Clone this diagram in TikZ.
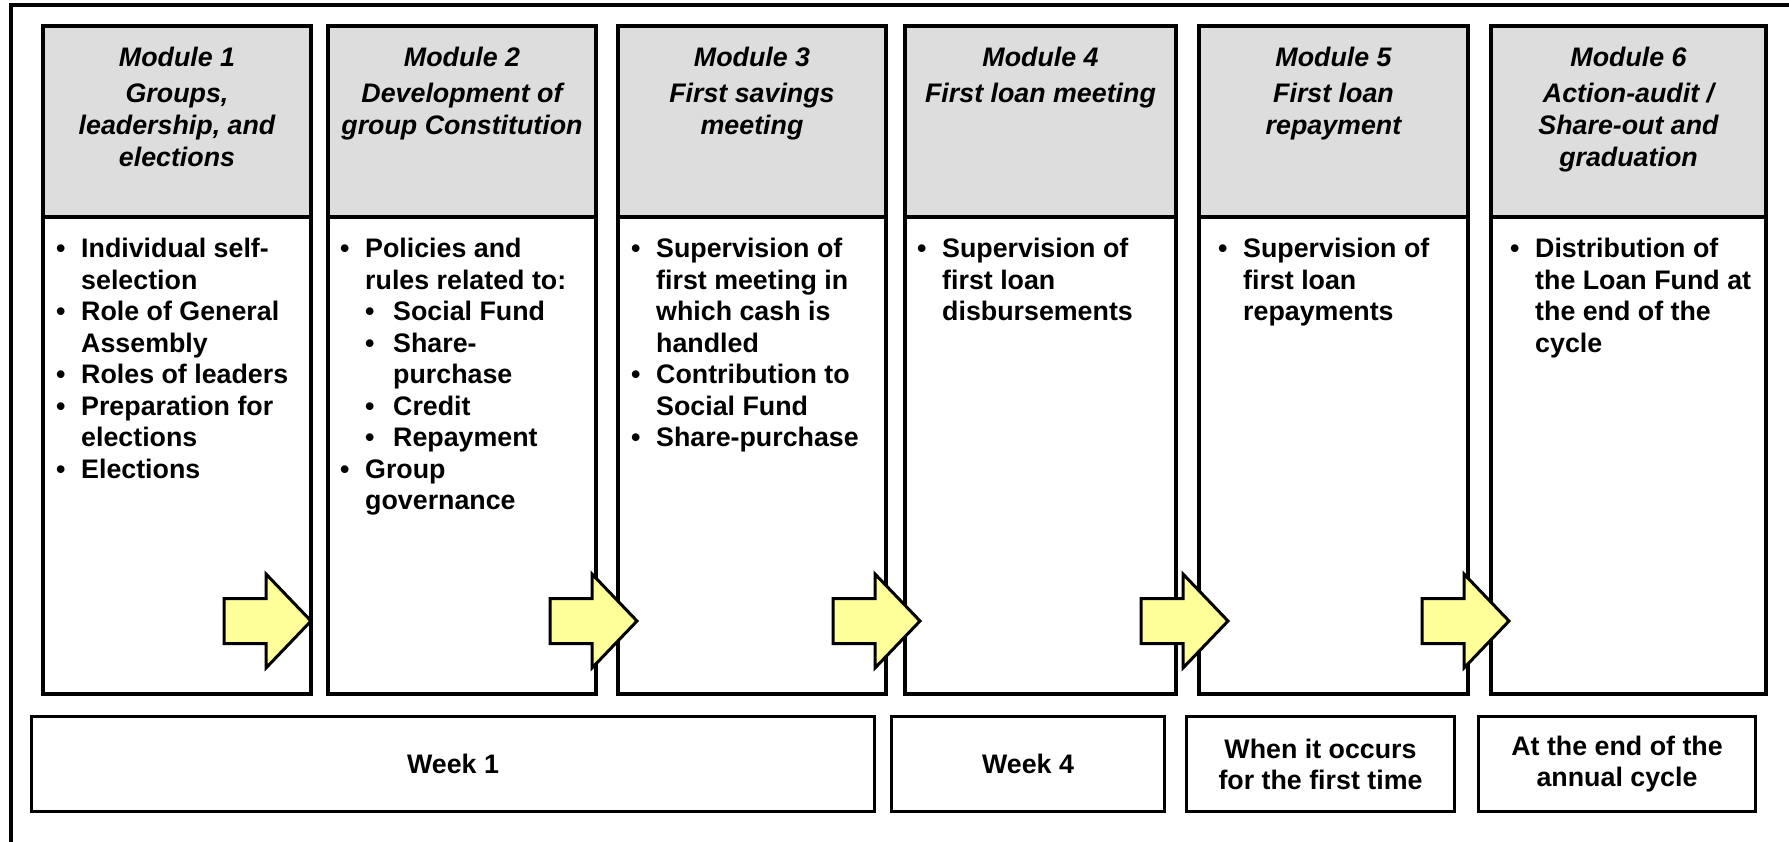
\documentclass[tikz,border=0pt]{standalone}
\usepackage{fontspec}
\setmainfont{Liberation Sans}
\usetikzlibrary{positioning,calc}

\definecolor{headgray}{RGB}{221,221,221}
\definecolor{arrowyellow}{RGB}{255,255,153}

\newcommand{\bul}{\makebox[25pt][l]{\textbullet}}
\newcommand{\subbul}{\hspace*{25pt}\makebox[28pt][l]{\textbullet}}

\begin{document}
\begin{tikzpicture}[
    x=1pt,
    y=-1pt,
    modhead/.style={
        rectangle,
        draw=black,
        line width=4pt,
        fill=headgray,
        anchor=north west,
        minimum width=#1,
        minimum height=191pt,
        inner sep=0pt,
        outer sep=0pt
    },
    modbody/.style={
        rectangle,
        draw=black,
        line width=4pt,
        fill=white,
        anchor=north west,
        minimum width=#1,
        minimum height=477pt,
        inner sep=0pt,
        outer sep=0pt
    },
    headtxt/.style={
        align=center,
        inner sep=0pt,
        font=\fontsize{26.8}{32}\selectfont\bfseries\itshape
    },
    bodytxt/.style={
        align=left,
        inner sep=0pt,
        font=\fontsize{26.8}{31.5}\selectfont\bfseries
    },
    timebox/.style={
        rectangle,
        draw=black,
        line width=3pt,
        anchor=north west,
        minimum width=#1,
        minimum height=95pt,
        align=center,
        inner sep=0pt,
        outer sep=0pt,
        font=\fontsize{26.8}{31}\selectfont\bfseries
    },
    flowarrow/.style={draw=black, line width=3pt, fill=arrowyellow, line join=miter},
    frame/.style={draw=black, line width=4pt}
]
    \useasboundingbox (0,0) rectangle (1789,842);

    % Outer frame
    \draw[frame] (11,842) |- (1789,5.5);

    % Module headers
    \node[modhead=268pt] (h1) at (43,26) {};
    \node[modhead=268pt] (h2) at (328,26) {};
    \node[modhead=268pt] (h3) at (618,26) {};
    \node[modhead=271pt] (h4) at (905,26) {};
    \node[modhead=269pt] (h5) at (1199,26) {};
    \node[modhead=275pt] (h6) at (1491,26) {};

    % Module bodies
    \node[modbody=268pt] (b1) at (h1.south west) {};
    \node[modbody=268pt] (b2) at (h2.south west) {};
    \node[modbody=268pt] (b3) at (h3.south west) {};
    \node[modbody=271pt] (b4) at (h4.south west) {};
    \node[modbody=269pt] (b5) at (h5.south west) {};
    \node[modbody=275pt] (b6) at (h6.south west) {};

    % Module titles
    \node[headtxt, below=21pt of h1.north] (ht1) {Module 1\\[4pt]Groups,\\leadership, and\\elections};
    \node[headtxt, below=21pt of h2.north] (ht2) {Module 2\\[4pt]Development of\\group Constitution};
    \node[headtxt, below=21pt of h3.north] (ht3) {Module 3\\[4pt]First savings\\meeting};
    \node[headtxt, below=21pt of h4.north] (ht4) {Module 4\\[4pt]First loan meeting};
    \node[headtxt, below=21pt of h5.north] (ht5) {Module 5\\[4pt]First loan\\repayment};
    \node[headtxt, below=21pt of h6.north] (ht6) {Module 6\\[4pt]Action-audit /\\Share-out and\\graduation};

    % Module contents
    \node[bodytxt, below right=21pt and 13pt of b1.north west] (bt1) {%
        \bul Individual self-\\
        \hspace*{25pt}selection\\
        \bul Role of General\\
        \hspace*{25pt}Assembly\\
        \bul Roles of leaders\\
        \bul Preparation for\\
        \hspace*{25pt}elections\\
        \bul Elections};
    \node[bodytxt, below right=21pt and 12pt of b2.north west] (bt2) {%
        \bul Policies and\\
        \hspace*{25pt}rules related to:\\
        \subbul Social Fund\\
        \subbul Share-\\
        \hspace*{53pt}purchase\\
        \subbul Credit\\
        \subbul Repayment\\
        \bul Group\\
        \hspace*{25pt}governance};
    \node[bodytxt, below right=21pt and 13pt of b3.north west] (bt3) {%
        \bul Supervision of\\
        \hspace*{25pt}first meeting in\\
        \hspace*{25pt}which cash is\\
        \hspace*{25pt}handled\\
        \bul Contribution to\\
        \hspace*{25pt}Social Fund\\
        \bul Share-purchase};
    \node[bodytxt, below right=21pt and 12pt of b4.north west] (bt4) {%
        \bul Supervision of\\
        \hspace*{25pt}first loan\\
        \hspace*{25pt}disbursements};
    \node[bodytxt, below right=21pt and 19pt of b5.north west] (bt5) {%
        \bul Supervision of\\
        \hspace*{25pt}first loan\\
        \hspace*{25pt}repayments};
    \node[bodytxt, below right=21pt and 19pt of b6.north west] (bt6) {%
        \bul Distribution of\\
        \hspace*{25pt}the Loan Fund at\\
        \hspace*{25pt}the end of the\\
        \hspace*{25pt}cycle};

    % Timing
    \node[timebox=843pt] (week1) at (31.5,716.5) {Week 1};
    \node[timebox=273pt] (week4) at (891.5,716.5) {Week 4};
    \node[timebox=268pt] (first) at (1186.5,716.5) {When it occurs\\for the first time};
    \node[timebox=277pt] (cycle) at (1478.5,716.5) {At the end of the\\annual cycle};

    % Arrows between modules
    \foreach \tip in {311,637,920,1228,1509}
        \draw[flowarrow] (\tip,621) -- ++(-45,-47) -- ++(0,24.5) -- ++(-42,0)
            -- ++(0,45) -- ++(42,0) -- ++(0,24.5) -- cycle;
\end{tikzpicture}
\end{document}
